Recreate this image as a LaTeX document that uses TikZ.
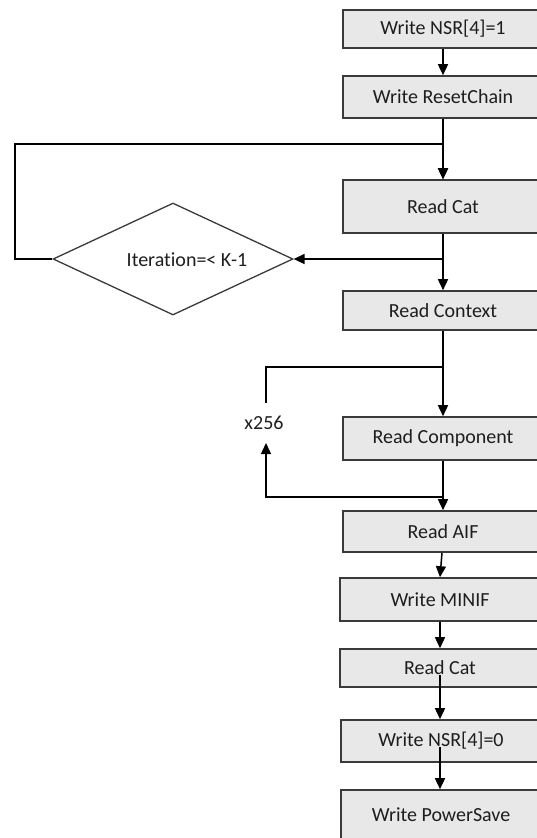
\documentclass[tikz,border=0pt]{standalone}
\usepackage{fontspec}
\setmainfont[RawFeature={-liga}]{Carlito}
\usetikzlibrary{shapes.geometric,arrows.meta}
\definecolor{boxfill}{HTML}{E8E8E8}
\definecolor{boxline}{HTML}{3A3A3A}
\definecolor{txt}{HTML}{1E1E1E}
\begin{document}
\begin{tikzpicture}[x=1pt,y=-1pt,
  box/.style={draw=boxline,fill=boxfill,line width=1.6pt,minimum width=200pt,inner sep=0pt,text=txt,font=\fontsize{20}{24}\selectfont},
  conn/.style={line width=1.5pt,-{Triangle[length=11pt,width=10pt]}},
  plain/.style={line width=1.5pt},
  lbl/.style={inner sep=0pt,text=txt,font=\fontsize{20}{24}\selectfont}]
\useasboundingbox (0,0) rectangle (537,838);
\node[box,minimum height=38pt] (n1) at (443,29) {Write NSR[4]=1};
\node[box,minimum height=42pt] (n2) at (443,97) {Write ResetChain};
\node[box,minimum height=53pt] (rc) at (443,206.5) {Read Cat};
\node[box,minimum height=39pt] (ctx) at (443,310.5) {Read Context};
\node[box,minimum height=43pt] (comp) at (443,438.5) {Read Component};
\node[box,minimum height=41pt] (aif) at (443,531.5) {Read AIF};
\node[box,minimum height=43pt] (minif) at (440,599.5) {Write MINIF};
\node[box,minimum height=38pt] (rc2) at (440,668) {Read Cat};
\node[box,minimum height=42pt] (nsr0) at (441,741) {Write NSR[4]=0};
\node[box,minimum height=50pt] (ps) at (441,815) {Write PowerSave};
\node[diamond,draw=boxline,line width=1.3pt,minimum width=240pt,minimum height=112pt,inner sep=0pt] (dia) at (173,259) {};
\node[lbl] (dtxt) at (187,260) {Iteration=< K-1};
\node[lbl] (x256) at (264,423) {x256};
% main flow
\draw[conn] (n1.south) -- (n2.north);
\draw[conn] (n2.south) -- (rc.north);
\coordinate (loopL) at (15,144);
\draw[conn] (dia.west) -| (loopL) -| (rc.north);
\draw[conn] (rc.south) -- (ctx.north);
\draw[conn] (rc.south |- dia.east) -- (dia.east);
% x256 loop
\draw[conn] (ctx.south) -- (comp.north);
\coordinate (ua) at (266,367);
\coordinate (ub) at (266,403);
\draw[plain] (ctx.south |- ua) -- (ua) -- (ub);
\coordinate (la) at (266,497);
\coordinate (lb) at (266,443);
\draw[conn] (comp.south |- la) -- (la) -- (lb);
\draw[conn] (comp.south) -- (aif.north);
% lower part
\draw[conn] ([xshift=-1pt]aif.south) -- (minif.north);
\draw[conn] (minif.south) -- (rc2.north);
\coordinate (c1) at (440,675);
\draw[conn] (c1) -- (nsr0.north -| c1);
\coordinate (c2) at (440,747);
\draw[conn] (c2) -- (ps.north -| c2);
\end{tikzpicture}
\end{document}
